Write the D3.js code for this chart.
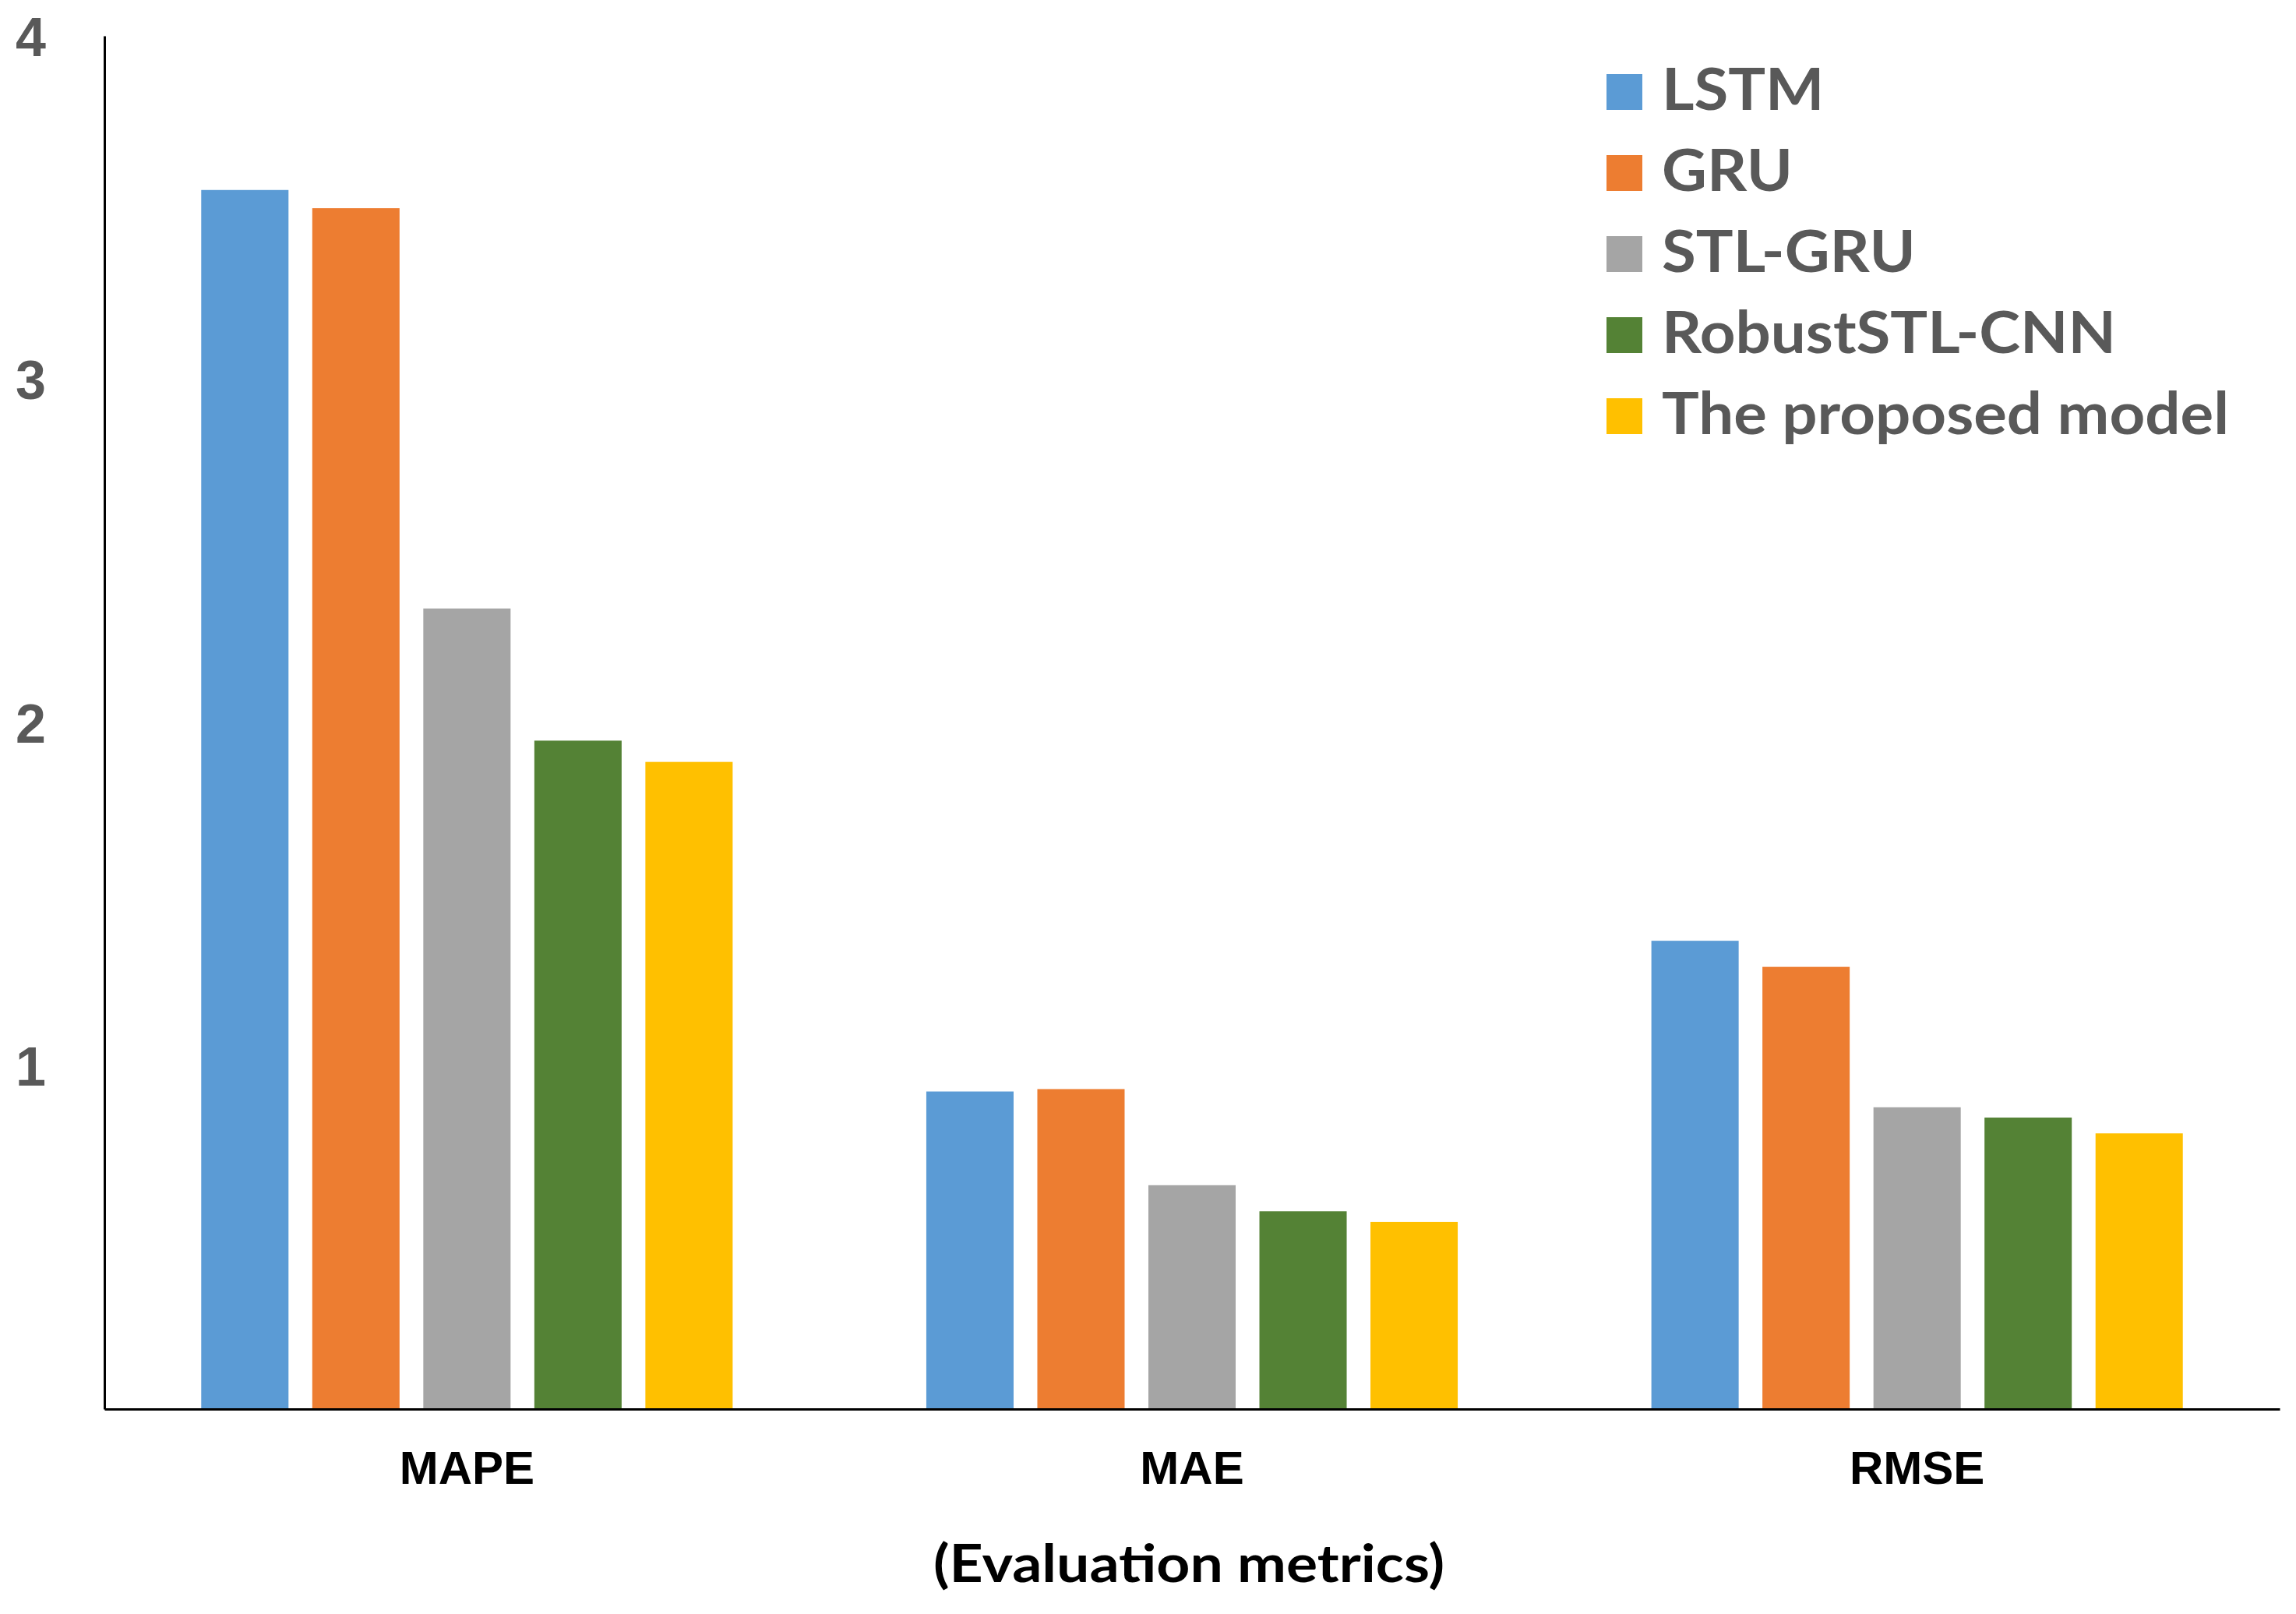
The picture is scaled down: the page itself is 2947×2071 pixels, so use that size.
<!DOCTYPE html>
<html>
<head>
<meta charset="utf-8">
<script src="https://cdn.jsdelivr.net/npm/d3@7"></script>
<style>
  html, body { margin: 0; padding: 0; background: #ffffff; }
  svg { display: block; }
</style>
</head>
<body>
<svg id="chart" width="2947" height="2071"></svg>
<script>
// ---- Data ----
const categories = ["MAPE", "MAE", "RMSE"];
const seriesNames = ["LSTM", "GRU", "STL-GRU", "RobustSTL-CNN", "The proposed model"];
const lstmValues = [3.551, 0.925, 1.364];
const gruValues = [3.498, 0.932, 1.288];
const stlGruValues = [2.332, 0.652, 0.879];
const robustStlCnnValues = [1.947, 0.576, 0.849];
const proposedValues = [1.885, 0.545, 0.803];
const yTickValues = [1, 2, 3, 4];
const xAxisTitle = "(Evaluation metrics)";

// ---- Styles ----
const seriesColors = ["#5B9BD5", "#ED7D31", "#A5A5A5", "#548235", "#FFC000"];
const allSeries = [lstmValues, gruValues, stlGruValues, robustStlCnnValues, proposedValues];

const W = 2947, H = 2071;
const plot = { left: 134, right: 2926, top: 46, bottom: 1808 };

const svg = d3.select("#chart");
svg.append("rect").attr("width", W).attr("height", H).attr("fill", "#ffffff");

const x0 = d3.scaleBand().domain(categories).range([plot.left, plot.right]).paddingInner(0).paddingOuter(0);
const x1 = d3.scaleBand().domain(seriesNames).range([0, x0.bandwidth()]).paddingInner(0.214).paddingOuter(0.872);
const y = d3.scaleLinear().domain([0, 4]).range([plot.bottom, plot.top]);
const color = d3.scaleOrdinal().domain(seriesNames).range(seriesColors);

// bars
const rows = [];
seriesNames.forEach((s, si) => {
  categories.forEach((c, ci) => rows.push({ series: s, cat: c, value: allSeries[si][ci] }));
});
svg.append("g").selectAll("rect").data(rows).join("rect")
  .attr("x", d => x0(d.cat) + x1(d.series))
  .attr("width", x1.bandwidth())
  .attr("y", d => y(d.value))
  .attr("height", d => y(0) - y(d.value))
  .attr("fill", d => color(d.series));

// y axis
const yAxis = svg.append("g").attr("transform", `translate(${plot.left},0)`)
  .call(d3.axisLeft(y).tickValues(yTickValues).tickFormat(d3.format("d")).tickSize(0).tickSizeOuter(0).tickPadding(75));
yAxis.select(".domain").attr("stroke", "#000").attr("stroke-width", 3);
yAxis.selectAll("text")
  .attr("font-family", "'Liberation Sans', Arial, sans-serif")
  .attr("font-weight", "bold")
  .attr("font-size", 70)
  .attr("fill", "#595959")
  .attr("dy", "0.36em");

// x axis
const xAxis = svg.append("g").attr("transform", `translate(0,${plot.bottom})`)
  .call(d3.axisBottom(x0).tickSize(0).tickSizeOuter(0).tickPadding(53));
xAxis.select(".domain").attr("stroke", "#000").attr("stroke-width", 3);
xAxis.selectAll("text")
  .attr("font-family", "'Liberation Sans', Arial, sans-serif")
  .attr("font-weight", "bold")
  .attr("font-size", 60)
  .attr("fill", "#000");

// x axis title
const title = svg.append("text")
  .attr("x", (plot.left + plot.right) / 2 - 4)
  .attr("y", 2030)
  .attr("text-anchor", "middle")
  .attr("font-family", "Lato, 'Open Sans', sans-serif")
  .attr("font-weight", 700)
  .attr("font-size", 67)
  .attr("fill", "#000")
  .text(xAxisTitle);
const tw = title.node().getComputedTextLength();
title.attr("textLength", 656).attr("lengthAdjust", "spacingAndGlyphs");

// legend
const legend = svg.append("g").attr("transform", "translate(2062,141)");
const items = legend.selectAll("g").data(seriesNames).join("g")
  .attr("transform", (d, i) => `translate(0,${i * 104})`);
items.append("rect")
  .attr("x", 0).attr("y", -46).attr("width", 46).attr("height", 46)
  .attr("fill", d => color(d));
const ltexts = items.append("text")
  .attr("x", 71).attr("y", 0)
  .attr("font-family", "Lato, 'Open Sans', sans-serif")
  .attr("font-weight", 700)
  .attr("font-size", 74)
  .attr("fill", "#595959")
  .text(d => d);
// condense legend labels uniformly so the longest fits the reference width
let maxW = 0;
ltexts.each(function() { maxW = Math.max(maxW, this.getComputedTextLength()); });
const factor = 728 / maxW;
ltexts.each(function() {
  const w = this.getComputedTextLength();
  d3.select(this).attr("textLength", w * factor).attr("lengthAdjust", "spacingAndGlyphs");
});
</script>
</body>
</html>
